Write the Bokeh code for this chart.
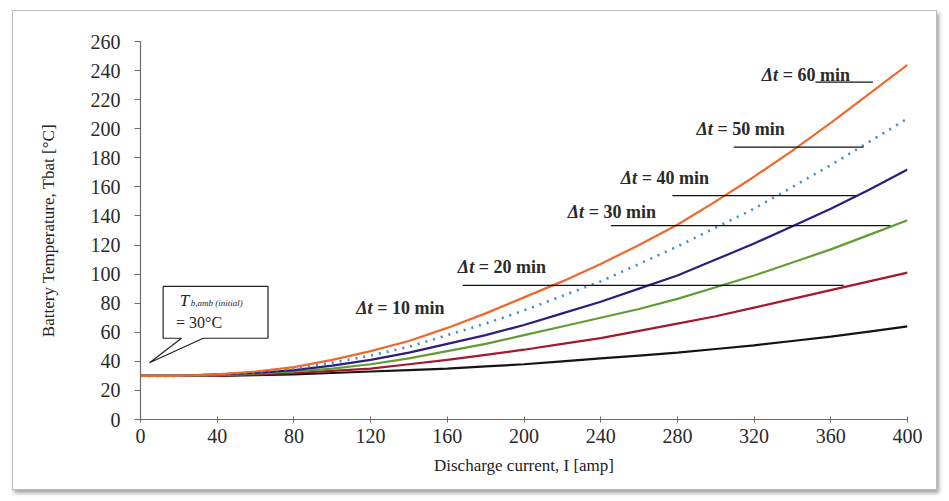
from bokeh.plotting import figure
from bokeh.models import Range1d, FixedTicker, ColumnDataSource
from bokeh.core.properties import value
from bokeh.embed import file_html
from bokeh.resources import INLINE

# ---- data ----
current = [0, 20, 40, 60, 80, 100, 120, 140, 160, 180, 200,
           220, 240, 260, 280, 300, 320, 340, 360, 380, 400]
t10 = [30, 30, 30, 30.5, 31, 32, 33, 34, 35, 36.5, 38, 40, 42, 44, 46, 48.5, 51, 54, 57, 60.5, 64]
t20 = [30, 30, 30, 31, 32, 33.5, 35, 38, 41, 44.5, 48, 52, 56, 61, 66, 71, 77, 83, 89, 95, 101]
t30 = [30, 30, 30.5, 31.5, 33, 35, 38, 42, 47, 52, 58, 64, 70, 76, 83, 91, 99, 108, 117, 127, 137]
t40 = [30, 30, 31, 32, 34, 37, 41, 46, 52, 58, 65, 73, 81, 90, 99, 110, 121, 133, 145, 158, 172]
t50 = [30, 30, 31, 32.5, 35, 39, 44, 50, 58, 66, 75, 85, 95, 107, 119, 132, 145, 160, 175, 191, 207]
t60 = [30, 30, 31, 33, 36, 41, 47, 54, 63, 73, 84, 95, 107, 120, 134, 150, 167, 185, 204, 224, 244]

x_ticks = [0, 40, 80, 120, 160, 200, 240, 280, 320, 360, 400]
y_ticks = [0, 20, 40, 60, 80, 100, 120, 140, 160, 180, 200, 220, 240, 260]

dt_names = ["10", "20", "30", "40", "50", "60"]
# label anchor (current, temperature) for each Δt label
lab_x = [112.5, 165.5, 222.8, 250.5, 290.0, 324.0]
lab_y = [76.5, 105.0, 143.0, 166.0, 200.0, 237.0]
# horizontal leader lines: start, end, level (Δt = 20 ... 60 min)
lead_x0 = [168.0, 245.3, 277.4, 309.4, 352.0]
lead_x1 = [366.7, 391.0, 373.0, 377.0, 382.0]
lead_y = [92.2, 133.4, 154.0, 187.3, 232.0]

FONT = "Liberation Serif"
serif = value(FONT)

p = figure(width=925, height=480, x_range=Range1d(0, 400), y_range=Range1d(0, 260),
           output_backend="svg", toolbar_location=None,
           min_border_left=127, min_border_right=31, min_border_top=30, min_border_bottom=72)
p.margin = (10, 12, 11, 12)
p.styles = {"border": "1px solid #bdbdbd", "box-shadow": "2px 3px 4px #a0a0a0"}
p.background_fill_color = "white"
p.border_fill_color = "white"
p.outline_line_color = None
p.xgrid.visible = False
p.ygrid.visible = False

for ax in (p.xaxis[0], p.yaxis[0]):
    ax.axis_line_color = "#6a6a6a"
    ax.axis_line_width = 1.2
    ax.major_tick_line_color = "#6a6a6a"
    ax.minor_tick_line_color = None
    ax.major_label_text_font = FONT
    ax.major_label_text_font_size = "20px"
    ax.major_label_text_color = "#2a2a2a"
    ax.axis_label_text_font = FONT
    ax.axis_label_text_font_size = "17px"
    ax.axis_label_text_font_style = "normal"
    ax.axis_label_text_color = "#222222"

p.xaxis.ticker = FixedTicker(ticks=x_ticks)
p.yaxis.ticker = FixedTicker(ticks=y_ticks)
p.xaxis.major_tick_in = 3
p.xaxis.major_tick_out = 3
p.yaxis.major_tick_in = 0
p.yaxis.major_tick_out = 6
p.xaxis.major_label_standoff = 6
p.yaxis.major_label_standoff = 14
p.xaxis.axis_label = "Discharge current, I [amp]"
p.xaxis.axis_label_standoff = 10
p.yaxis.axis_label = "Battery Temperature, Tbat [°C]"
p.yaxis.axis_label_text_font_size = "17px"
p.yaxis.axis_label_standoff = 30

# curves
p.line(current, t10, line_color="#141414", line_width=2.2)
p.line(current, t20, line_color="#a3182b", line_width=2.2)
p.line(current, t30, line_color="#5e9e32", line_width=2.2)
p.line(current, t40, line_color="#2c1d7e", line_width=2.2)
p.line(current, t50, line_color="#3a8ec8", line_width=2.6, line_dash="2 6")
p.line(current, t60, line_color="#ee6a2c", line_width=2.2)

# leader lines
p.segment(x0=lead_x0, y0=lead_y, x1=lead_x1, y1=lead_y, line_color="#111111", line_width=1.3)

# Δt labels
src = ColumnDataSource(dict(x=lab_x, y=lab_y, d=["Δt"] * len(dt_names),
                            rest=["= " + n + " min" for n in dt_names]))
p.text(x="x", y="y", text="d", source=src, text_font=serif, text_font_size="18px",
       text_font_style="bold italic", text_baseline="middle", text_align="left",
       text_color="#2a2a2a")
p.text(x="x", y="y", text="rest", source=src, text_font=serif, text_font_size="18px",
       text_font_style="bold", text_baseline="middle", text_align="left",
       text_color="#2a2a2a", x_offset=21)

# callout box with pointer
call_x = [11.8, 66.5, 66.5, 32.7, 4.7, 21.4, 11.8]
call_y = [91.5, 91.5, 55.9, 55.9, 39.0, 55.9, 55.9]
p.patch(call_x, call_y, fill_color="white", line_color="#222222", line_width=1.2)
p.text(x=[20.5], y=[82.0], text=["T"], text_font=serif, text_font_size="17px",
       text_font_style="italic", text_baseline="middle", text_color="#222222")
p.text(x=[20.5], y=[80.0], text=["b,amb (initial)"], text_font=serif, text_font_size="9px",
       text_font_style="italic", text_baseline="middle", text_color="#222222", x_offset=11)
p.text(x=[18.5], y=[66.5], text=["= 30°C"], text_font=serif, text_font_size="16px",
       text_baseline="middle", text_color="#222222")

open("out.html", "w").write(file_html(p, INLINE))
